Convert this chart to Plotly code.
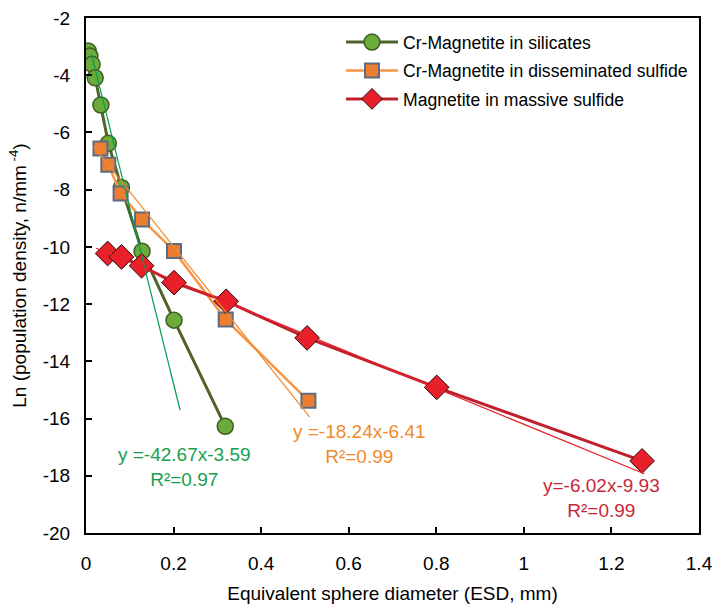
import plotly.graph_objects as go

# ---- data ----
sil_x = [0.005, 0.009, 0.014, 0.021, 0.034, 0.051, 0.081, 0.128, 0.201, 0.318]
sil_y = [-3.15, -3.33, -3.62, -4.09, -5.04, -6.38, -7.92, -10.15, -12.56, -16.27]

dis_x = [0.033, 0.051, 0.079, 0.128, 0.201, 0.319, 0.508]
dis_y = [-6.56, -7.13, -8.13, -9.04, -10.14, -12.54, -15.38]

mas_x = [0.0495, 0.081, 0.127, 0.201, 0.320, 0.505, 0.801, 1.270]
mas_y = [-10.23, -10.35, -10.66, -11.25, -11.90, -13.18, -14.91, -17.48]

# trendline end points as drawn in the reference
sil_trend_x = [0.013, 0.215]
sil_trend_y = [-3.29, -15.71]
dis_trend_x = [0.017, 0.511]
dis_trend_y = [-6.48, -15.95]
mas_trend_x = [0.023, 1.275]
mas_trend_y = [-10.05, -17.93]

x_ticks = [0, 0.2, 0.4, 0.6, 0.8, 1.0, 1.2, 1.4]
x_ticktext = ["0", "0.2", "0.4", "0.6", "0.8", "1", "1.2", "1.4"]
y_ticks = [-2, -4, -6, -8, -10, -12, -14, -16, -18, -20]
y_ticktext = ["-2", "-4", "-6", "-8", "-10", "-12", "-14", "-16", "-18", "-20"]

FONT = "Liberation Sans, Arial, sans-serif"

fig = go.Figure()

fig.add_trace(go.Scatter(
    x=sil_x, y=sil_y, mode="lines+markers", name="Cr-Magnetite in silicates",
    legendgroup="a",
    line=dict(color="#4f6228", width=3),
    marker=dict(symbol="circle", size=16, color="#6aab3c",
                line=dict(color="#3f5f22", width=1.5)),
))
fig.add_trace(go.Scatter(
    x=dis_x, y=dis_y, mode="lines+markers", name="Cr-Magnetite in disseminated sulfide",
    legendgroup="b",
    line=dict(color="#f79646", width=2.5),
    marker=dict(symbol="square", size=14, color="#ed7d31",
                line=dict(color="#5b6b82", width=2)),
))
fig.add_trace(go.Scatter(
    x=mas_x, y=mas_y, mode="lines+markers", name="Magnetite in massive sulfide",
    legendgroup="c",
    line=dict(color="#c0202c", width=3),
    marker=dict(symbol="diamond", size=19, color="#e8202a",
                line=dict(color="#2a0a0a", width=1)),
))

# trendlines (thin)
fig.add_trace(go.Scatter(x=sil_trend_x, y=sil_trend_y, mode="lines", showlegend=False,
                         line=dict(color="#00a050", width=1.2), hoverinfo="skip"))
fig.add_trace(go.Scatter(x=dis_trend_x, y=dis_trend_y, mode="lines", showlegend=False,
                         line=dict(color="#f4892e", width=1.2), hoverinfo="skip"))
fig.add_trace(go.Scatter(x=mas_trend_x, y=mas_trend_y, mode="lines", showlegend=False,
                         line=dict(color="#e8202a", width=1.2), hoverinfo="skip"))

ann_font = 19
fig.add_annotation(x=0.226, y=-17.68, xref="x", yref="y", showarrow=False,
                   text="y =-42.67x-3.59<br>R²=0.97", align="center",
                   font=dict(family=FONT, size=ann_font, color="#18a04c"))
fig.add_annotation(x=0.624, y=-16.88, xref="x", yref="y", showarrow=False,
                   text="y =-18.24x-6.41<br>R²=0.99", align="center",
                   font=dict(family=FONT, size=ann_font, color="#f0892c"))
fig.add_annotation(x=1.178, y=-18.77, xref="x", yref="y", showarrow=False,
                   text="y=-6.02x-9.93<br>R²=0.99", align="center",
                   font=dict(family=FONT, size=ann_font, color="#c8283a"))

axis_common = dict(
    showline=True, linecolor="black", linewidth=2, mirror=True,
    ticks="inside", ticklen=6, tickwidth=1.5, tickcolor="black",
    showgrid=False, zeroline=False, automargin=False,
    ticklabeloverflow="allow",
    tickfont=dict(family=FONT, size=19, color="black"),
)

fig.update_xaxes(range=[0, 1.4], tickvals=x_ticks, ticktext=x_ticktext,
                 ticklabelstandoff=12,
                 title=dict(text="Equivalent sphere diameter (ESD, mm)",
                            font=dict(family=FONT, size=19, color="black"), standoff=14),
                 **axis_common)
fig.update_yaxes(range=[-20, -2], tickvals=y_ticks, ticktext=y_ticktext,
                 ticklabelstandoff=10,
                 title=dict(text="Ln (population density, n/mm<sup> -4</sup>)",
                            font=dict(family=FONT, size=19, color="black"), standoff=11),
                 **axis_common)

fig.update_layout(
    width=712, height=605,
    margin=dict(l=86, r=13, t=18, b=72, autoexpand=False),
    paper_bgcolor="white", plot_bgcolor="white",
    font=dict(family=FONT, size=19, color="black"),
    legend=dict(x=0.416, y=0.988, xanchor="left", yanchor="top",
                bgcolor="rgba(0,0,0,0)", font=dict(family=FONT, size=17.6),
                itemwidth=52, tracegroupgap=2.5),
)

fig.write_html("out.html", config={"displayModeBar": False},
               post_script="document.body.style.margin='0';document.body.style.overflow='hidden';")
